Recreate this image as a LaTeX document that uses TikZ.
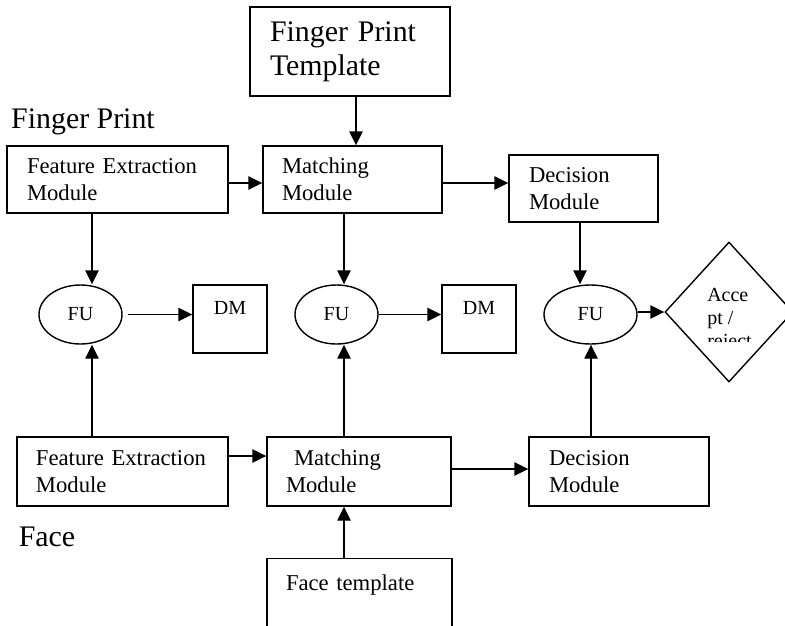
\documentclass[tikz,border=0pt]{standalone}
\usepackage{fontspec}
\setmainfont{Liberation Serif}
\usetikzlibrary{shapes.geometric,arrows.meta}

\begin{document}
\begin{tikzpicture}[x=0.75pt,y=-0.75pt,
  every node/.style={inner sep=0pt},
  modbox/.style={draw,line width=1.05pt,rectangle,align=left,
    minimum height=50.25pt,inner xsep=15pt,
    font=\fontsize{17}{20.25}\selectfont},
  bigbox/.style={draw,line width=1.05pt,rectangle,align=left,
    minimum height=66.75pt,inner xsep=15pt,
    font=\fontsize{22.4}{25.5}\selectfont},
  biglabel/.style={font=\fontsize{22.4}{25.5}\selectfont},
  fusion/.style={draw,line width=1.05pt,ellipse,minimum height=44.25pt,
    font=\fontsize{15}{17}\selectfont},
  dmbox/.style={draw,line width=1.05pt,rectangle,minimum width=55.5pt,
    minimum height=51pt,text height=11pt,text depth=17.75pt,
    font=\fontsize{15}{17}\selectfont},
  arr/.style={line width=1.05pt,-{Triangle[length=10.5pt,width=10pt]}}]

\useasboundingbox (0,0) rectangle (785,625);
\clip (0,0) rectangle (785,625);

% helper coordinates for connector positions
\coordinate (c92) at (92,0);
\coordinate (c344) at (344,0);
\coordinate (c356) at (356,0);
\coordinate (c580) at (580,0);
\coordinate (c591) at (591,0);
\coordinate (r1) at (0,183);
\coordinate (r2) at (0,456);
\coordinate (r3) at (0,469);

% templates and labels
\node[bigbox,minimum width=150pt,text width=120pt] (tpl) at (350,51.5)
  {Finger Print\\Template};
\node[biglabel] (lblfp) at (83,122) {Finger Print};
\node[biglabel] (lblface) at (47,537) {Face};

% finger print chain
\node[modbox,minimum width=165.75pt,text width=135.75pt] (fe1) at (117.5,179.5)
  {Feature Extraction\\Module};
\node[modbox,minimum width=134.25pt,inner xsep=14.25pt,text width=105.75pt] (m1) at (352.5,179.5)
  {Matching\\Module};
\node[modbox,minimum width=111.75pt,text width=81.75pt] (d1) at (583.5,188.5)
  {Decision\\Module};

% face chain
\node[modbox,minimum height=51.75pt,minimum width=158.25pt,inner xsep=14.25pt,text width=129.75pt] (fe2) at (122.5,471.5)
  {Feature Extraction\\Module};
\node[modbox,minimum height=51.75pt,minimum width=138pt,inner xsep=14.25pt,text width=109.5pt] (m2) at (359,471.5)
  {\hspace*{6pt}Matching\\Module};
\node[modbox,minimum height=51.75pt,minimum width=135pt,text width=105pt] (d2) at (619,471.5)
  {Decision\\Module};
\node[draw,line width=1.05pt,rectangle,align=left,anchor=north,
  inner xsep=14.25pt,inner ysep=12pt,text width=110.25pt,
  text height=12pt,text depth=60pt,
  font=\fontsize{17}{20.25}\selectfont] (ftpl) at (359.5,558) {Face template};

% fusion units and decision makers
\node[fusion,minimum width=62.25pt] (fu1) at (80.5,314.5) {FU};
\node[fusion,minimum width=62.25pt] (fu2) at (336.5,314.5) {FU};
\node[fusion,minimum width=69.75pt] (fu3) at (590.5,314.5) {FU};
\node[dmbox] (dm1) at (230,319) {DM};
\node[dmbox] (dm2) at (479,319) {DM};
\node[draw,line width=1.05pt,diamond,minimum width=96pt,minimum height=105pt] (dia) at (729,312) {};
\begin{scope}
  \clip (700,270) rectangle (780,341);
  \node[align=left,anchor=north west,font=\fontsize{15}{17.25}\selectfont] (acc) at (707,288)
    {Acce\\pt /\\reject};
\end{scope}

% connectors
\draw[arr] (tpl.south -| c356) -- (m1.north -| c356);
\draw[arr] (fe1.east |- r1) -- (m1.west |- r1);
\draw[arr] (m1.east |- r1) -- (d1.west |- r1);
\draw[arr] (fe1.south -| c92) -- (fu1.north -| c92);
\draw[arr] (m1.south -| c344) -- (fu2.north -| c344);
\draw[arr] (d1.south -| c580) -- (fu3.north -| c580);
\draw[arr] ([xshift=3.75pt]fu1.east) -- (dm1.west |- fu1.east);
\draw[arr] (fu2.east) -- (dm2.west |- fu2.east);
\draw[arr] (fu3.east |- dia.west) -- (dia.west);
\draw[arr] (fe2.north -| c92) -- (fu1.south -| c92);
\draw[arr] (m2.north -| c344) -- (fu2.south -| c344);
\draw[arr] (d2.north -| c591) -- (fu3.south -| c591);
\draw[arr] (fe2.east |- r2) -- (m2.west |- r2);
\draw[arr] (m2.east |- r3) -- (d2.west |- r3);
\draw[arr] (ftpl.north -| c344) -- (m2.south -| c344);

\end{tikzpicture}
\end{document}
